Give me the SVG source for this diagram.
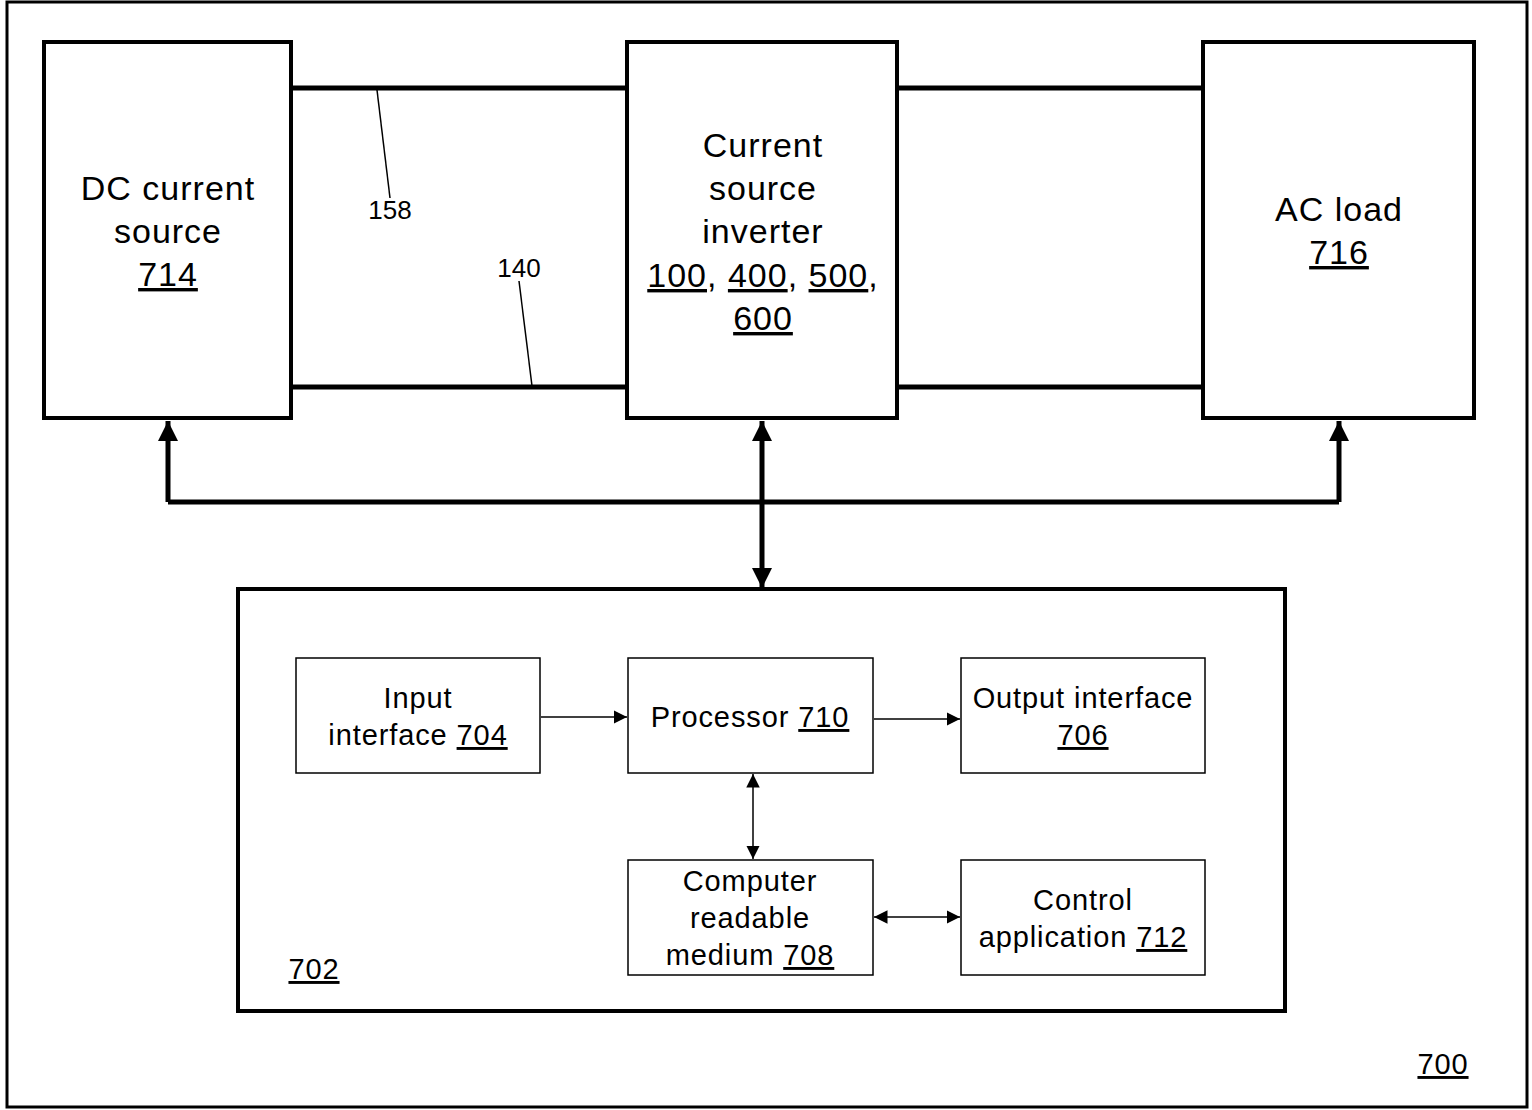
<svg xmlns="http://www.w3.org/2000/svg" width="1532" height="1110" viewBox="0 0 1532 1110">
<style>
.big{font-family:"Liberation Sans",Arial,sans-serif;font-size:34px;letter-spacing:1px;fill:#000;text-anchor:middle}
.med{font-family:"Liberation Sans",Arial,sans-serif;font-size:29px;letter-spacing:0.9px;fill:#000;text-anchor:middle}
.ref{font-family:"Liberation Sans",Arial,sans-serif;font-size:26px;fill:#000;text-anchor:middle}
.u{text-decoration:underline}
.thick{fill:#fff;stroke:#000;stroke-width:4}
.thin{fill:#fff;stroke:#000;stroke-width:1.5}
.bus{fill:none;stroke:#000;stroke-width:5}
.ln{fill:none;stroke:#000;stroke-width:1.5}
</style>
<defs>
<marker id="ab" viewBox="0 0 10 10" refX="10" refY="5" markerWidth="4" markerHeight="4" orient="auto-start-reverse" markerUnits="strokeWidth"><path d="M0,0 L10,5 L0,10 z" fill="#000"/></marker>
<marker id="as" viewBox="0 0 10 10" refX="10" refY="5" markerWidth="9" markerHeight="9" orient="auto-start-reverse" markerUnits="strokeWidth"><path d="M0,0 L10,5 L0,10 z" fill="#000"/></marker>
</defs>
<rect x="0" y="0" width="1532" height="1110" fill="#fff"/>
<rect id="frame700" x="7" y="2" width="1520" height="1105" fill="none" stroke="#000" stroke-width="3"/>
<g id="ctrl702">
<rect x="238" y="589" width="1047" height="422" fill="none" stroke="#000" stroke-width="4"/>
<text class="med" x="314" y="979"><tspan class="u">702</tspan></text>
</g>
<g id="connectors">
<line class="bus" x1="291" y1="88" x2="627" y2="88"/>
<line class="bus" x1="291" y1="387" x2="627" y2="387"/>
<line class="bus" x1="897" y1="88" x2="1203" y2="88"/>
<line class="bus" x1="897" y1="387" x2="1203" y2="387"/>
<line class="ln" x1="377" y1="90" x2="390" y2="198"/>
<line class="ln" x1="519" y1="281" x2="532" y2="386"/>
<path class="bus" d="M168,502 H1339"/>
<path class="bus" d="M168,502 V421" marker-end="url(#ab)"/>
<path class="bus" d="M1339,502 V421" marker-end="url(#ab)"/>
<path class="bus" d="M762,421 V588" marker-start="url(#ab)" marker-end="url(#ab)"/>
<path class="ln" d="M541,717 H627" marker-end="url(#as)"/>
<path class="ln" d="M874,719 H960" marker-end="url(#as)"/>
<path class="ln" d="M753,774 V859" marker-start="url(#as)" marker-end="url(#as)"/>
<path class="ln" d="M874,917 H960" marker-start="url(#as)" marker-end="url(#as)"/>
</g>
<g id="dc714">
<rect class="thick" x="44" y="42" width="247" height="376"/>
<text class="big" x="168" y="200">DC current</text>
<text class="big" x="168" y="243">source</text>
<text class="big" x="168" y="286"><tspan class="u">714</tspan></text>
</g>
<g id="csi">
<rect class="thick" x="627" y="42" width="270" height="376"/>
<text class="big" x="763" y="157">Current</text>
<text class="big" x="763" y="200">source</text>
<text class="big" x="763" y="243">inverter</text>
<text class="big" x="763" y="287"><tspan class="u">100</tspan>, <tspan class="u">400</tspan>, <tspan class="u">500</tspan>,</text>
<text class="big" x="763" y="330"><tspan class="u">600</tspan></text>
</g>
<g id="ac716">
<rect class="thick" x="1203" y="42" width="271" height="376"/>
<text class="big" x="1339" y="221">AC load</text>
<text class="big" x="1339" y="264"><tspan class="u">716</tspan></text>
</g>
<g id="lbl158"><text class="ref" x="390" y="219">158</text></g>
<g id="lbl140"><text class="ref" x="519" y="277">140</text></g>
<g id="in704">
<rect class="thin" x="296" y="658" width="244" height="115"/>
<text class="med" x="418" y="708">Input</text>
<text class="med" x="418" y="745">interface <tspan class="u">704</tspan></text>
</g>
<g id="proc710">
<rect class="thin" x="628" y="658" width="245" height="115"/>
<text class="med" x="750" y="727">Processor <tspan class="u">710</tspan></text>
</g>
<g id="out706">
<rect class="thin" x="961" y="658" width="244" height="115"/>
<text class="med" x="1083" y="708">Output interface</text>
<text class="med" x="1083" y="745"><tspan class="u">706</tspan></text>
</g>
<g id="crm708">
<rect class="thin" x="628" y="860" width="245" height="115"/>
<text class="med" x="750" y="891">Computer</text>
<text class="med" x="750" y="928">readable</text>
<text class="med" x="750" y="965">medium <tspan class="u">708</tspan></text>
</g>
<g id="app712">
<rect class="thin" x="961" y="860" width="244" height="115"/>
<text class="med" x="1083" y="910">Control</text>
<text class="med" x="1083" y="947">application <tspan class="u">712</tspan></text>
</g>
<g id="lbl700"><text class="med" x="1443" y="1074"><tspan class="u">700</tspan></text></g>
</svg>
